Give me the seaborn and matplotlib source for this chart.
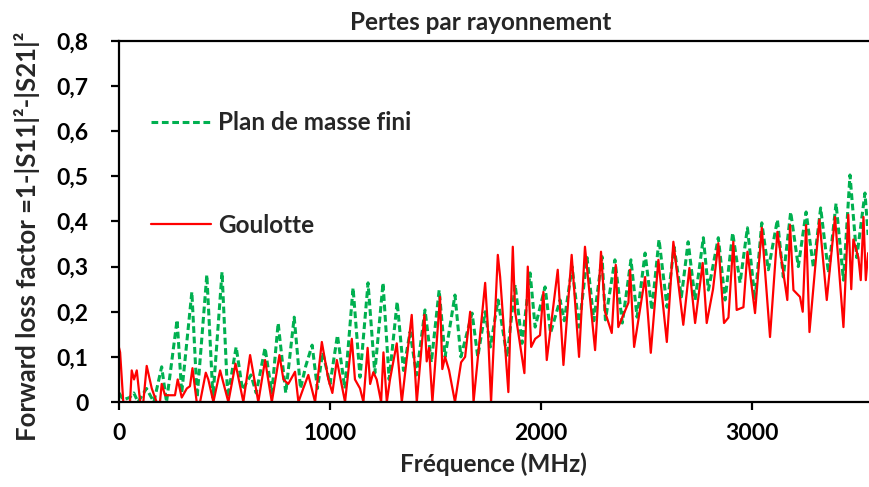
import matplotlib
matplotlib.use("Agg")
import matplotlib.pyplot as plt
import seaborn as sns
from matplotlib.ticker import FuncFormatter, MultipleLocator

# Goulotte (red, solid)
goulotte_f = [0, 5, 20, 52, 60, 71, 84, 100, 115, 131, 155, 178, 194, 202, 218, 265, 278, 297,
              321, 336, 348, 368, 384, 411, 423, 447, 479, 518, 552, 589, 621, 660, 692, 724,
              760, 779, 802, 834, 850, 873, 897, 929, 961, 992, 1011, 1032, 1071, 1103, 1118,
              1142, 1158, 1178, 1190, 1205, 1221, 1242, 1253, 1269, 1284, 1316, 1340, 1387,
              1411, 1447, 1458, 1469, 1485, 1521, 1532, 1545, 1564, 1592, 1621, 1640, 1664,
              1680, 1735, 1746, 1763, 1795, 1806, 1845, 1866, 1877, 1921, 1937, 1953, 1972,
              1995, 2011, 2027, 2079, 2106, 2145, 2180, 2208, 2256, 2284, 2303, 2335, 2354,
              2366, 2414, 2422, 2441, 2493, 2520, 2556, 2596, 2627, 2674, 2703, 2730, 2766,
              2785, 2815, 2840, 2867, 2888, 2911, 2927, 2959, 2978, 3014, 3046, 3085, 3120,
              3167, 3180, 3196, 3227, 3240, 3256, 3272, 3319, 3354, 3393, 3433, 3456, 3470,
              3480, 3504, 3515, 3528, 3539, 3550]
goulotte_v = [0.12, 0.11, 0.0, 0.0, 0.07, 0.05, 0.07, 0.0, 0.0, 0.08, 0.03, 0.0, 0.0, 0.04,
              0.015, 0.015, 0.05, 0.01, 0.03, 0.035, 0.075, 0.0, 0.0, 0.065, 0.05, 0.0, 0.07,
              0.0, 0.085, 0.0, 0.104, 0.0, 0.093, 0.0, 0.104, 0.05, 0.04, 0.067, 0.0, 0.03,
              0.06, 0.0, 0.133, 0.05, 0.02, 0.093, 0.0, 0.14, 0.05, 0.03, 0.0, 0.12, 0.04,
              0.066, 0.05, 0.0, 0.11, 0.0, 0.05, 0.13, 0.0, 0.193, 0.0, 0.193, 0.09, 0.12,
              0.0, 0.233, 0.073, 0.1, 0.07, 0.0, 0.088, 0.1, 0.2, 0.0, 0.264, 0.18, 0.0,
              0.326, 0.277, 0.022, 0.344, 0.2, 0.064, 0.3, 0.122, 0.14, 0.148, 0.244, 0.093,
              0.293, 0.082, 0.326, 0.1, 0.344, 0.115, 0.333, 0.2, 0.153, 0.304, 0.166, 0.22,
              0.293, 0.122, 0.277, 0.109, 0.315, 0.133, 0.355, 0.171, 0.297, 0.175, 0.308,
              0.175, 0.25, 0.352, 0.175, 0.187, 0.355, 0.204, 0.21, 0.333, 0.197, 0.386,
              0.144, 0.377, 0.226, 0.392, 0.248, 0.233, 0.2, 0.392, 0.155, 0.404, 0.226,
              0.41, 0.166, 0.415, 0.25, 0.36, 0.32, 0.27, 0.41, 0.27, 0.33]

# Plan de masse fini (green, dashed)
plan_f = [0, 20, 50, 70, 90, 130, 165, 202, 225, 275, 297, 345, 370, 416, 445, 488, 515, 555,
          585, 625, 650, 692, 724, 754, 790, 830, 860, 885, 915, 940, 965, 1000, 1035, 1070,
          1109, 1142, 1180, 1212, 1251, 1280, 1318, 1348, 1379, 1410, 1450, 1480, 1517, 1545,
          1592, 1620, 1673, 1700, 1735, 1760, 1796, 1839, 1877, 1910, 1948, 1972, 2019, 2045,
          2090, 2110, 2147, 2180, 2218, 2250, 2289, 2305, 2350, 2385, 2426, 2455, 2493, 2525,
          2559, 2597, 2630, 2665, 2697, 2730, 2769, 2793, 2840, 2872, 2908, 2943, 2978, 3014,
          3046, 3077, 3120, 3148, 3183, 3219, 3256, 3291, 3325, 3362, 3398, 3433, 3464, 3496,
          3535, 3550]
plan_v = [0.02, 0.005, 0.01, 0.02, 0.0, 0.03, 0.0, 0.078, 0.0, 0.182, 0.02, 0.244, 0.01, 0.282,
          0.01, 0.288, 0.01, 0.122, 0.027, 0.06, 0.02, 0.12, 0.02, 0.175, 0.02, 0.188, 0.03,
          0.08, 0.126, 0.03, 0.11, 0.04, 0.148, 0.03, 0.253, 0.055, 0.264, 0.064, 0.264, 0.05,
          0.222, 0.07, 0.155, 0.06, 0.204, 0.088, 0.248, 0.1, 0.237, 0.1, 0.197, 0.1, 0.2,
          0.122, 0.226, 0.1, 0.26, 0.13, 0.286, 0.166, 0.255, 0.153, 0.226, 0.18, 0.3, 0.166,
          0.32, 0.18, 0.322, 0.182, 0.315, 0.175, 0.315, 0.188, 0.33, 0.204, 0.36, 0.21, 0.344,
          0.233, 0.355, 0.226, 0.364, 0.248, 0.364, 0.226, 0.375, 0.264, 0.386, 0.226, 0.397,
          0.293, 0.404, 0.277, 0.421, 0.3, 0.421, 0.297, 0.43, 0.286, 0.44, 0.27, 0.503, 0.32,
          0.463, 0.37]

GREEN = "#00B050"
RED = "#FF0000"

sns.set_style("white")
plt.rcParams["font.family"] = ["Lato", "DejaVu Sans"]
plt.rcParams["font.weight"] = "bold"

fig, ax = plt.subplots(figsize=(8.69, 4.87), dpi=100)
fig.subplots_adjust(left=0.137, right=0.999, top=0.916, bottom=0.1745)

sns.lineplot(x=plan_f, y=plan_v, ax=ax, color=GREEN, linewidth=2.2,
             linestyle=(0, (2.2, 1.2)), label="Plan de masse fini")
sns.lineplot(x=goulotte_f, y=goulotte_v, ax=ax, color=RED, linewidth=1.6,
             label="Goulotte")

ax.set_xlim(0, 3550)
ax.set_ylim(0, 0.8)
ax.xaxis.set_major_locator(MultipleLocator(1000))
ax.yaxis.set_major_locator(MultipleLocator(0.1))
ax.yaxis.set_major_formatter(FuncFormatter(
    lambda v, _: "0" if abs(v) < 1e-9 else f"{v:.1f}".replace(".", ",")))

for side in ["top", "left", "bottom"]:
    ax.spines[side].set_linewidth(1.6)
    ax.spines[side].set_color("black")
ax.spines["right"].set_visible(False)

ax.tick_params(axis="both", direction="out", length=6, width=1.6, colors="black",
               labelsize=16.5)
ax.tick_params(axis="x", bottom=True, pad=9)
ax.tick_params(axis="y", left=True, pad=16)
for lab in ax.get_xticklabels() + ax.get_yticklabels():
    lab.set_fontweight("bold")

ax.set_title("Pertes par rayonnement", fontsize=17.5, fontweight="bold", pad=8, x=0.483)
ax.set_xlabel("Fréquence (MHz)", fontsize=17.5, fontweight="bold", labelpad=6)
ax.set_ylabel("Forward loss factor =1-|S11|²-|S21|²", fontsize=18.5, fontweight="bold",
              labelpad=12, y=0.46)

ax.legend(loc="upper left", bbox_to_anchor=(0.042, 0.805), frameon=False,
          handlelength=2.47, handletextpad=0.3, labelspacing=3.26, borderpad=0,
          borderaxespad=0, prop={"weight": "bold", "size": 17.5})

fig.savefig("out.png", dpi=100)
